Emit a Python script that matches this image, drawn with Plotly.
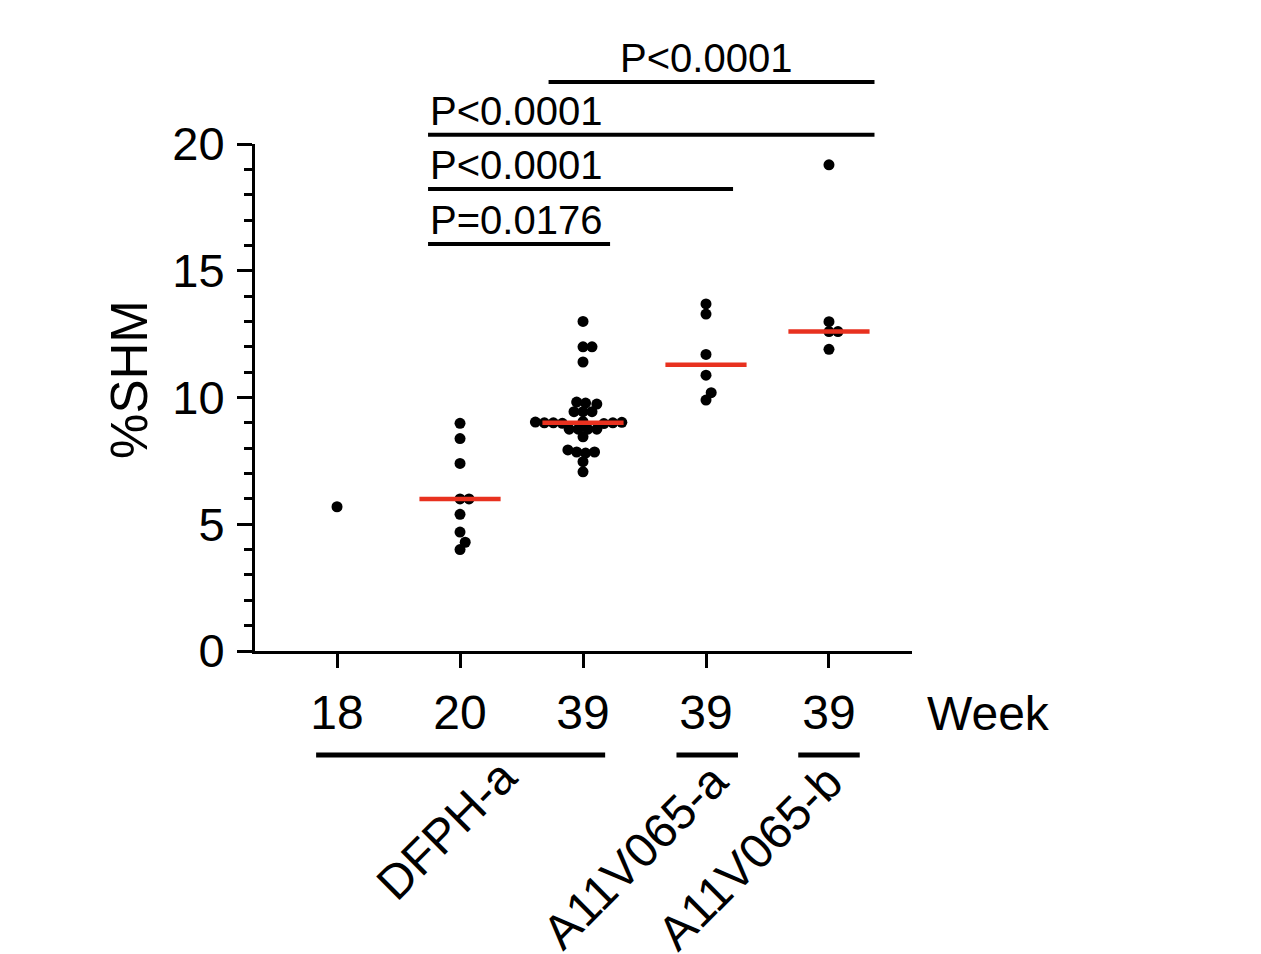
import numpy as np
import plotly.graph_objects as go

# columns of the dot plot
weeks = ["18", "20", "39", "39", "39"]
cohorts = ["DFPH-a", "DFPH-a", "DFPH-a", "A11V065-a", "A11V065-b"]

# %SHM per sequence
shm_dfph_w18 = [5.69]
shm_dfph_w20 = [8.98, 8.38, 7.40, 6.00, 6.00, 5.39, 4.69, 4.29, 4.00]
shm_dfph_w39 = [13.0, 12.0, 12.0, 11.4, 9.82, 9.78, 9.74, 9.44, 9.44, 9.44,
                9.05, 9.02, 9.00, 9.00, 8.98, 9.00, 9.03, 8.97,
                8.75, 8.75, 8.75, 8.75, 8.45, 7.93, 7.85, 7.85, 7.81, 7.47, 7.07]
shm_a11a_w39 = [13.69, 13.29, 11.70, 10.88, 10.19, 9.90]
shm_a11b_w39 = [19.18, 12.99, 12.60, 12.60, 11.90]
columns = [shm_dfph_w18, shm_dfph_w20, shm_dfph_w39, shm_a11a_w39, shm_a11b_w39]

# significance brackets: (x start, x end, height in %SHM, label centred?)
p_labels = ["P<0.0001", "P<0.0001", "P<0.0001", "P=0.0176"]
p_brackets = [(1.72, 4.37, 22.45, True), (0.74, 4.37, 20.36, False),
              (0.74, 3.22, 18.22, False), (0.74, 2.22, 16.06, False)]

W, H = 1261, 954
# page body has an 8px margin, so pull the plot area up/left by 8
ML, MR, MT, MB = 247, 357, 136, 311
XR = [-0.667, 4.675]
YR = [0, 20]
FONT = "Liberation Sans, Arial, sans-serif"
RED = "#e8311f"

sx = (W - ML - MR) / (XR[1] - XR[0])   # px per x unit
sy = (H - MT - MB) / (YR[1] - YR[0])   # px per y unit
DOT = 9.0


def swarm(vals, d):
    # beeswarm offsets (x units) so dots d px apart don't overlap
    placed = []
    out = [0.0] * len(vals)
    for i in np.argsort(vals, kind="stable"):
        y = vals[i] * sy
        near = [(px, py) for px, py in placed if abs(py - y) < d]
        cands = [0.0]
        for px, py in near:
            dx = np.sqrt(d * d - (py - y) ** 2)
            cands += [px + dx, px - dx]
        cands.sort(key=lambda c: (abs(c), -c))
        for c in cands:
            if all((c - px) ** 2 + (y - py) ** 2 >= d * d - 1e-6 for px, py in near):
                break
        placed.append((c, y))
        out[i] = c / sx
    return out


fig = go.Figure()
for i, vals in enumerate(columns):
    offs = swarm(vals, DOT)
    fig.add_trace(go.Scatter(x=[i + o for o in offs], y=vals, mode="markers",
                             marker=dict(size=11, color="black"),
                             showlegend=False, cliponaxis=False))
    if len(vals) > 1:
        m = float(np.median(vals))
        fig.add_trace(go.Scatter(x=[i - 0.33, i + 0.33], y=[m, m], mode="lines",
                                 line=dict(color=RED, width=4.5), showlegend=False))

shapes = []
annotations = []
for (x0, x1, yv, centred), lab in zip(p_brackets, p_labels):
    yp = yv / YR[1]
    shapes.append(dict(type="line", xref="x", yref="paper", x0=x0, x1=x1, y0=yp, y1=yp,
                       line=dict(color="black", width=4)))
    annotations.append(dict(text=lab, xref="x", yref="paper",
                            x=3.0 if centred else x0, y=yp,
                            xanchor="center" if centred else "left", yanchor="bottom",
                            showarrow=False, font=dict(size=40, color="black", family=FONT)))

# cohort underlines and rotated cohort names
groups = [("DFPH-a", -0.17, 2.18, 0.894, -0.353),
          ("A11V065-a", 2.76, 3.26, 2.423, -0.406),
          ("A11V065-b", 3.75, 4.25, 3.358, -0.408)]
for name, x0, x1, lx, ly in groups:
    shapes.append(dict(type="line", xref="x", yref="paper", x0=x0, x1=x1, y0=-0.205, y1=-0.205,
                       line=dict(color="black", width=5)))
    annotations.append(dict(text=name, xref="x", yref="paper", x=lx, y=ly, textangle=-45,
                            xanchor="center", yanchor="middle", showarrow=False,
                            font=dict(size=48, color="black", family=FONT)))

annotations.append(dict(text="Week", xref="paper", yref="paper", x=1.1157, y=-0.124,
                        xanchor="center", yanchor="middle", showarrow=False,
                        font=dict(size=48, color="black", family=FONT)))
# y axis title, set a little above the middle as in the original
annotations.append(dict(text="%SHM", xref="paper", yref="paper", x=-0.19, y=0.535,
                        textangle=-90, xanchor="center", yanchor="middle", showarrow=False,
                        font=dict(size=51, color="black", family=FONT)))

fig.update_layout(
    width=W, height=H,
    margin=dict(l=ML, r=MR, t=MT, b=MB),
    paper_bgcolor="white", plot_bgcolor="white",
    font=dict(family=FONT, color="black"),
    shapes=shapes, annotations=annotations,
    xaxis=dict(range=XR, tickvals=list(range(len(weeks))), ticktext=weeks,
               ticks="outside", ticklen=14, tickwidth=3, tickcolor="black",
               showline=True, linewidth=3, linecolor="black",
               showgrid=False, zeroline=False, automargin=False,
               tickfont=dict(size=48), ticklabelstandoff=3),
    yaxis=dict(range=YR, tickvals=[0, 5, 10, 15, 20],
               ticks="outside", ticklen=15, tickwidth=3, tickcolor="black",
               minor=dict(tickvals=[v for v in range(21) if v % 5], ticks="outside",
                          ticklen=8, tickwidth=3, tickcolor="black"),
               showline=True, linewidth=3, linecolor="black",
               showgrid=False, zeroline=False, automargin=False,
               tickfont=dict(size=47), ticklabelstandoff=3),
)

fig.write_html("out.html")
